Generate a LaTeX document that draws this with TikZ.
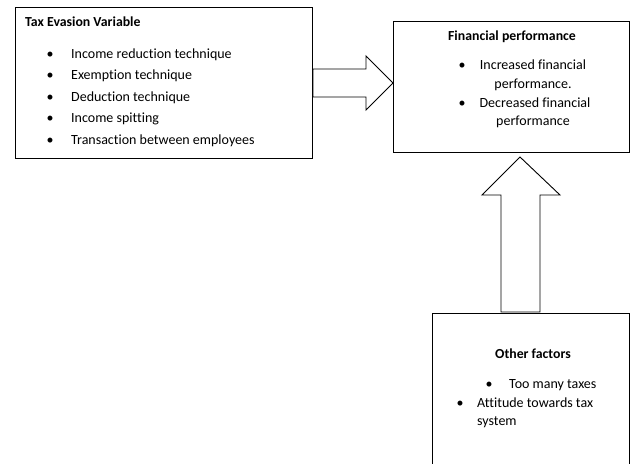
\documentclass[tikz,border=0pt]{standalone}
\usepackage{fontspec}
\setmainfont[Ligatures=NoCommon]{Carlito}
\usetikzlibrary{positioning}
\usetikzlibrary{calc}
\tikzset{
  box/.style={draw,line width=1pt,inner sep=0pt,anchor=north west},
  blockarrow/.style={draw,line width=0.9pt,line join=miter,fill=white},
  txt/.style={font=\fontsize{14}{16}\selectfont,inner sep=0pt,anchor=base west},
  ctxt/.style={txt,anchor=base},
  head/.style={font=\fontsize{13.8}{16}\selectfont\bfseries,inner sep=0pt}
}
\begin{document}
\begin{tikzpicture}[x=1pt,y=-1pt]
   \useasboundingbox (0,0) rectangle (631,463);
   \clip (0,0) rectangle (631,463);

   % boxes
   \node[box,minimum width=297pt,minimum height=151pt] (tev) at (15,7) {};
   \node[box,minimum width=236pt,minimum height=131pt] (fp) at (393,21) {};
   \node[box,minimum width=197pt,minimum height=170pt] (of) at (432,313) {};

   % block arrows
   \draw[blockarrow] ($(tev.east)+(0,-14)$) -- ++(53,0) -- ++(0,-13)
      -- (tev.east -| fp.west) coordinate (tipa)
      -- ($(tev.east)+(53,27)$) -- ++(0,-13) -- ($(tev.east)+(0,14)$) -- cycle;
   \coordinate (base) at ($(of.north west)+(88,0)$);
   \draw[blockarrow] ($(base)+(-19,-1)$) -- ++(0,-117) -- ++(-19,0)
      -- ($(base)+(0,-156)$) coordinate (tipb)
      -- ($(base)+(40,-118)$) -- ++(-20,0) -- ($(base)+(20,-1)$) -- cycle;

   % tax evasion variable
   \node[head,anchor=base west] (tevh) at (25,27) {Tax Evasion Variable};
   \foreach \t [count=\i] in {Income reduction technique,Exemption technique,
      Deduction technique,Income spitting,Transaction between employees}{
     \node[txt,anchor=base] (tevb\i) at (50,{58+21.5*(\i-1)}) {\textbullet};
     \node[txt] (tevt\i) at (71,{58+21.5*(\i-1)}) {\t};
   }

   % financial performance
   \node[head,anchor=base] (fph) at (512,40) {Financial performance};
   \node[txt,anchor=base] (fpb1) at (462,69) {\textbullet};
   \node[ctxt] (fpt1) at (533,69) {Increased financial};
   \node[ctxt] (fpt2) at (533,88) {performance.};
   \node[txt,anchor=base] (fpb2) at (462,107) {\textbullet};
   \node[ctxt] (fpt3) at (535,107) {Decreased financial};
   \node[ctxt] (fpt4) at (533,125) {performance};

   % other factors
   \node[head,anchor=base] (ofh) at (533,358) {Other factors};
   \node[txt,anchor=base] (ofb1) at (489,388) {\textbullet};
   \node[txt] (oft1) at (509,388) {Too many taxes};
   \node[txt,anchor=base] (ofb2) at (460,407) {\textbullet};
   \node[txt] (oft2) at (477,407) {Attitude towards tax};
   \node[txt] (oft3) at (477,425) {system};
\end{tikzpicture}
\end{document}
